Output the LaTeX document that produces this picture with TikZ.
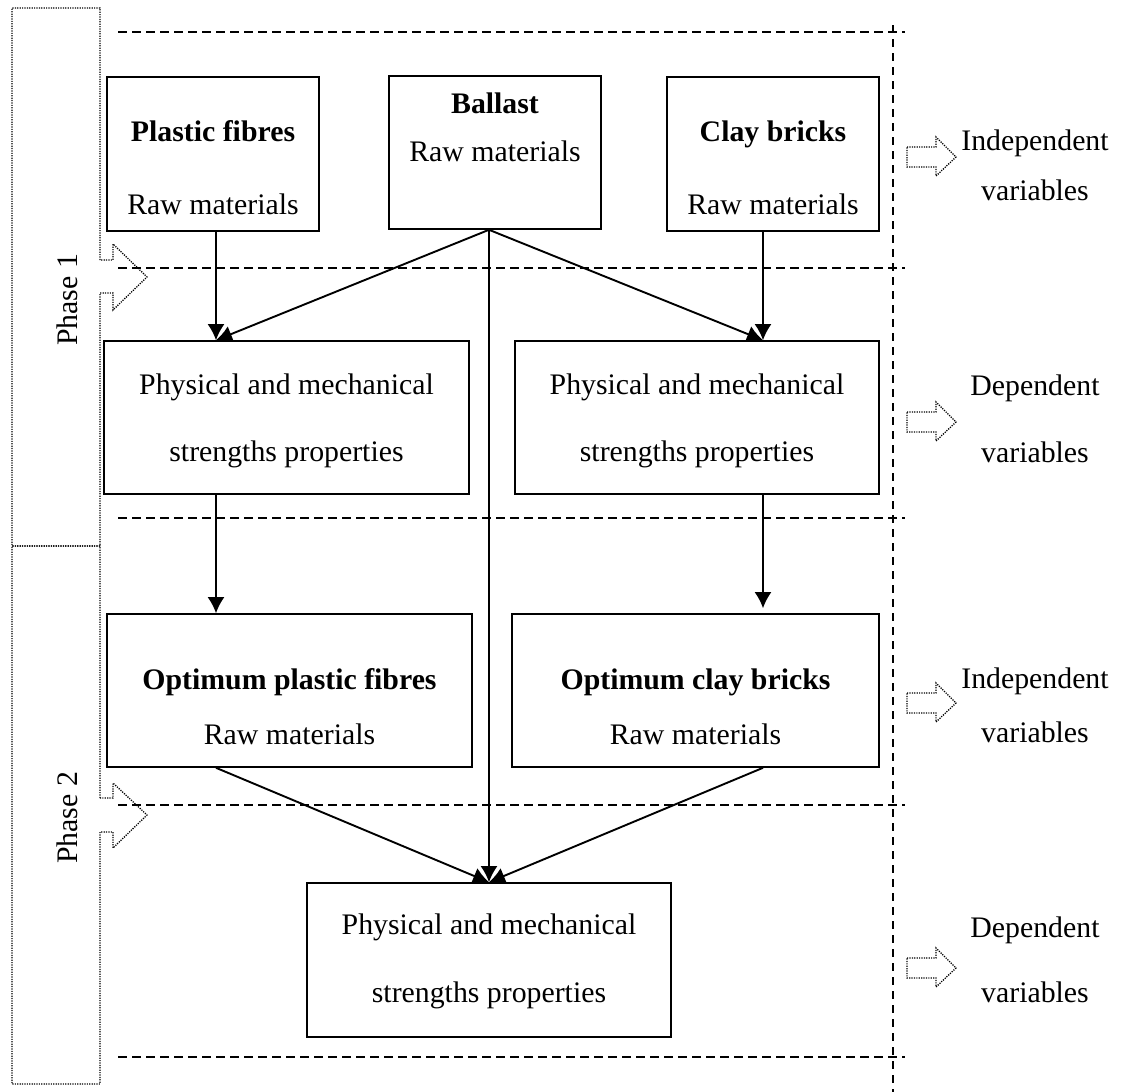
\documentclass[tikz,border=0pt]{standalone}
\usepackage{fontspec}
\setmainfont{Liberation Serif}
\usetikzlibrary{arrows.meta,calc}
\tikzset{>={Latex[length=8pt,width=8.5pt]},
  box/.style={draw,line width=0.8pt,inner sep=0pt},
  txt/.style={anchor=base,inner sep=0pt,font=\fontsize{14.9}{18}\selectfont},
  btxt/.style={txt,font=\fontsize{14.9}{18}\selectfont\bfseries},
  guide/.style={line width=0.6pt,dash pattern=on 4.5pt off 2.5pt},
  phase/.style={line width=0.65pt,dash pattern=on 0.6pt off 0.6pt},
  flow/.style={->,line width=0.95pt}}

\begin{document}
\begin{tikzpicture}[x=0.5pt,y=-0.5pt]
  \useasboundingbox (0,0) rectangle (1131,1092);
  % phase bars
  \draw[phase] (100,260) -- (100,8) -- (12,8) -- (12,546) -- (100,546) -- (100,293)
    -- (113,293) -- (113,310) -- (147,277) -- (113,244) -- (113,260) -- cycle;
  \draw[phase] (100,798) -- (100,546) -- (12,546) -- (12,1084) -- (100,1084) -- (100,832)
    -- (113,832) -- (113,848) -- (147,815) -- (113,783) -- (113,798) -- cycle;
  \node[txt,rotate=90] (ph1) at (77,300) {Phase 1};
  \node[txt,rotate=90] (ph2) at (77,818) {Phase 2};
  % guide lines
  \foreach \y in {32,268,518,805,1057}
    \draw[guide] (118,\y) -- (905,\y);
  \draw[guide,dash pattern=on 4pt off 3pt] (893,25) -- (893,1092);
  % boxes
  \node[box,minimum width=106pt,minimum height=77pt] (pf) at (213,154) {};
  \node[btxt] (pft) at (213,141) {Plastic fibres};
  \node[txt] (pfr) at (213,214) {Raw materials};
  \node[box,minimum width=106pt,minimum height=76.5pt] (bal) at (495,152.5) {};
  \node[btxt] (balt) at (495,113) {Ballast};
  \node[txt] (balr) at (495,161) {Raw materials};
  \node[box,minimum width=106pt,minimum height=77pt] (cb) at (773,154) {};
  \node[btxt] (cbt) at (773,141) {Clay bricks};
  \node[txt] (cbr) at (773,214) {Raw materials};
  \node[box,minimum width=182.5pt,minimum height=76.5pt] (physL) at (286.5,417.5) {};
  \node[txt] (physLa) at (286.5,394) {Physical and mechanical};
  \node[txt] (physLb) at (286.5,461) {strengths properties};
  \node[box,minimum width=182pt,minimum height=76.5pt] (physR) at (697,417.5) {};
  \node[txt] (physRa) at (697,394) {Physical and mechanical};
  \node[txt] (physRb) at (697,461) {strengths properties};
  \node[box,minimum width=182.5pt,minimum height=76.5pt] (optP) at (289.5,690.5) {};
  \node[btxt] (optPt) at (289.5,689) {Optimum plastic fibres};
  \node[txt] (optPr) at (289.5,744) {Raw materials};
  \node[box,minimum width=183.5pt,minimum height=76.5pt] (optC) at (695.5,690.5) {};
  \node[btxt] (optCt) at (695.5,689) {Optimum clay bricks};
  \node[txt] (optCr) at (695.5,744) {Raw materials};
  \node[box,minimum width=182pt,minimum height=77pt] (physB) at (489,960) {};
  \node[txt] (physBa) at (489,934) {Physical and mechanical};
  \node[txt] (physBb) at (489,1002) {strengths properties};
  % connectors
  \coordinate (lx) at (216,0);
  \coordinate (rx) at (763,0);
  \coordinate (bx) at (bal.south -| physB.north);
  \draw[flow] (lx |- pf.south) -- (lx |- physL.north);
  \draw[flow] (rx |- cb.south) -- (rx |- physR.north);
  \draw[flow] (bx) -- (lx |- physL.north);
  \draw[flow] (bx) -- (rx |- physR.north);
  \draw[flow] (bx) -- (physB.north);
  \draw[flow] (lx |- physL.south) -- (lx |- optP.north);
  \draw[flow] (rx |- physR.south) -- ($(rx |- optC.north)+(0,-5)$);
  \draw[flow] (lx |- optP.south) -- (physB.north);
  \draw[flow] (rx |- optC.south) -- (physB.north);
  % variables
  \foreach \y in {157,422,703,968}
    \draw[phase,shift={(0,\y)}] (907,-10) -- (936,-10) -- (936,-20) -- (956,0)
      -- (936,19) -- (936,10) -- (907,10) -- cycle;
  \node[txt] (v1a) at (1035,150) {Independent};
  \node[txt] (v1b) at (1035,200) {variables};
  \node[txt] (v2a) at (1035,395) {Dependent};
  \node[txt] (v2b) at (1035,462) {variables};
  \node[txt] (v3a) at (1035,688) {Independent};
  \node[txt] (v3b) at (1035,742) {variables};
  \node[txt] (v4a) at (1035,937) {Dependent};
  \node[txt] (v4b) at (1035,1002) {variables};
\end{tikzpicture}
\end{document}
